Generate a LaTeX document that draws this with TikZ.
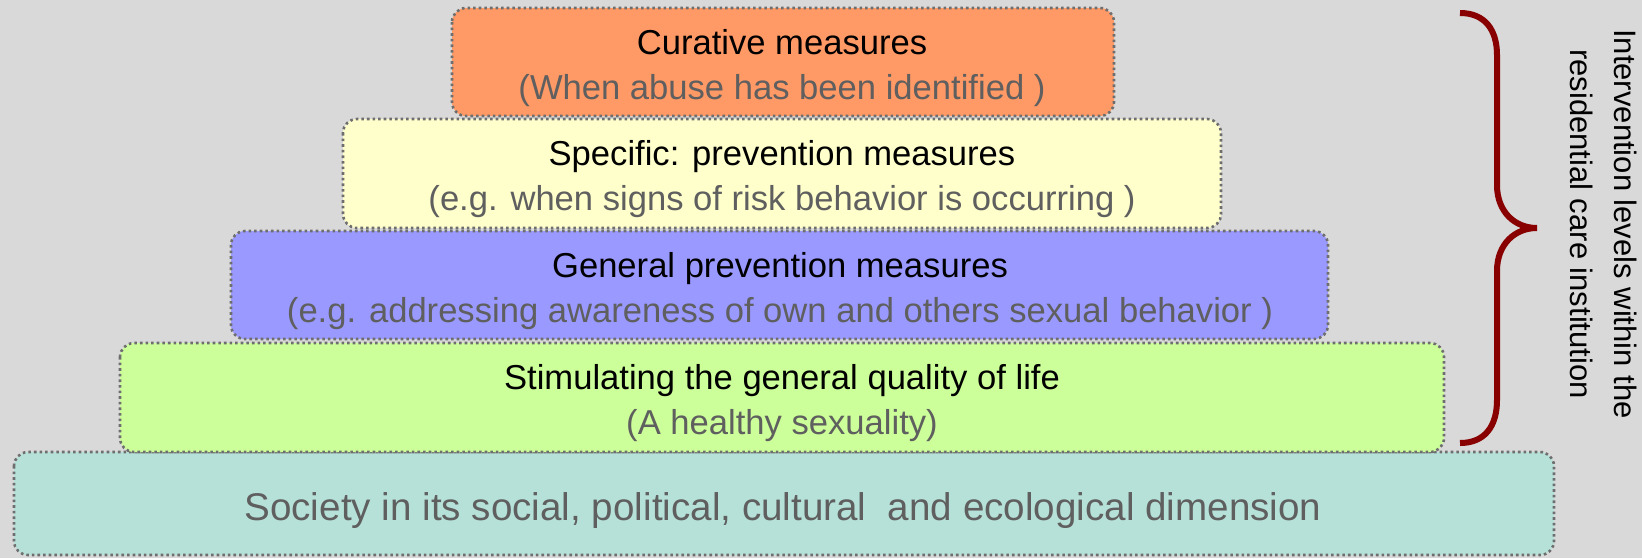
\documentclass[tikz,border=0pt]{standalone}
\usepackage{fontspec}
\setmainfont{Liberation Sans}
\definecolor{bgGray}{RGB}{217,217,217}
\definecolor{curFill}{RGB}{255,153,102}
\definecolor{specFill}{RGB}{255,255,204}
\definecolor{genFill}{RGB}{153,153,255}
\definecolor{qolFill}{RGB}{204,255,153}
\definecolor{socFill}{RGB}{182,225,216}
\definecolor{edgeGray}{RGB}{110,110,110}
\definecolor{subGray}{RGB}{95,95,95}
\definecolor{braceRed}{RGB}{136,0,0}

\begin{document}
\begin{tikzpicture}[x=1pt, y=-1pt,
    level/.style={draw=edgeGray, line width=2.6pt, dash pattern=on 2.6pt off 3pt, rounded corners=14pt},
    head/.style={anchor=base, inner sep=0pt, font=\fontsize{34.6}{45}\selectfont},
    sub/.style={head, text=subGray}]
  \fill[bgGray] (0,0) rectangle (1642,558);
  \useasboundingbox (0,0) rectangle (1642,558);
  % the levels, top to bottom
  \draw[level, fill=curFill] (452,8) rectangle (1114,116);
  \draw[level, fill=specFill] (343,119) rectangle (1221,228);
  \draw[level, fill=genFill] (231,231) rectangle (1328,339);
  \draw[level, fill=socFill] (14,452) rectangle (1554,555);
  \draw[level, fill=qolFill] (120,343) rectangle (1444,452);
  \node[head] (cur) at (782,54) {Curative measures};
  \node[sub] (cur-sub) at (782,99) {(When abuse has been identified )};
  \node[head] (spec) at (782,165) {Specific: prevention measures};
  \node[sub] (spec-sub) at (782,210) {(e.g. when signs of risk behavior is occurring )};
  \node[head] (gen) at (780,277) {General prevention measures};
  \node[sub] (gen-sub) at (780,322) {(e.g. addressing awareness of own and others sexual behavior )};
  \node[head] (qol) at (782,389) {Stimulating the general quality of life};
  \node[sub] (qol-sub) at (782,434) {(A healthy sexuality)};
  \node[sub, font=\fontsize{38.6}{45}\selectfont] (soc) at (783,520) {Society in its social, political, cultural\ \ and ecological dimension};
  % brace and side label
  \draw[braceRed, line width=6pt] (1460,13) .. controls (1485,13) and (1497,30) .. (1497,55)
    -- (1497,185) .. controls (1497,212) and (1515,228) .. (1537,228)
    .. controls (1515,228) and (1497,244) .. (1497,271)
    -- (1497,400) .. controls (1497,426) and (1485,443) .. (1460,443);
  \node[rotate=-90, align=center, inner sep=0pt, font=\fontsize{31}{44}\selectfont] (side) at (1604,224)
    {Intervention levels within the\\residential care institution};
\end{tikzpicture}
\end{document}
